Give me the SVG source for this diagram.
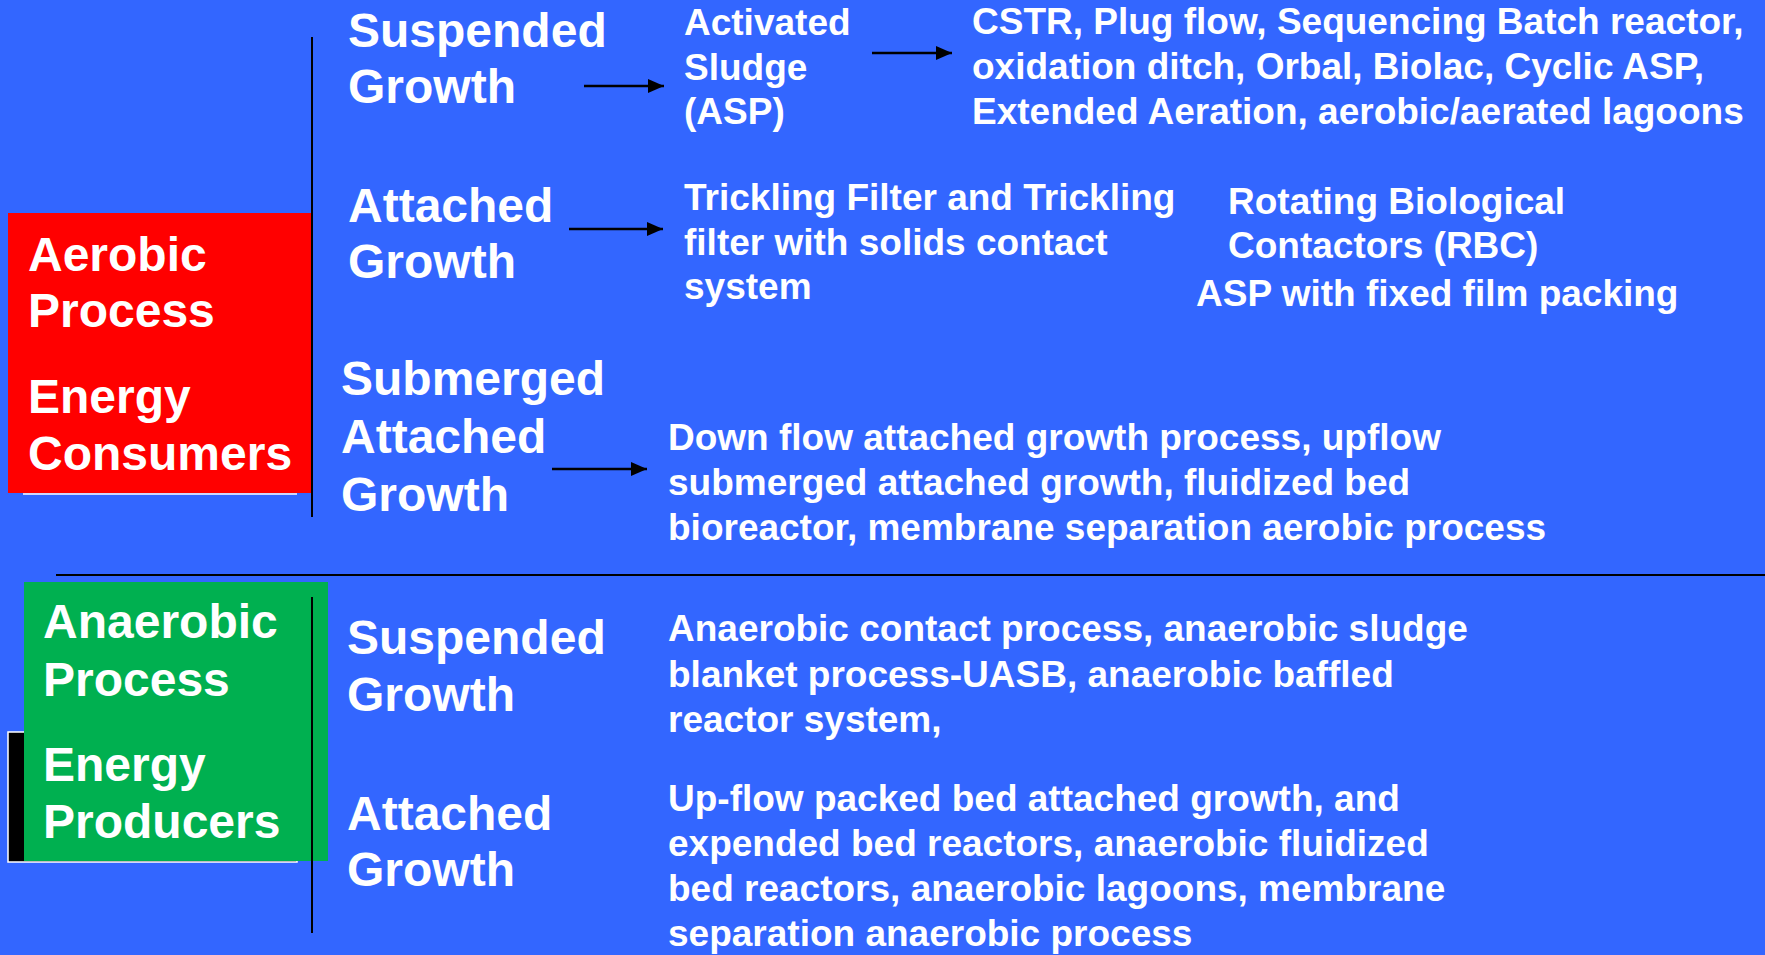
<svg xmlns="http://www.w3.org/2000/svg" width="1765" height="955" viewBox="0 0 1765 955">
  <style>
    text { font-family: "Liberation Sans", Arial, sans-serif; font-weight: bold; fill: #FFFFFF; }
    .big { font-size: 48px; }
    .small { font-size: 37px; }
    .rule { stroke: #000000; stroke-width: 2; fill: none; }
    .arrow { stroke: #000000; stroke-width: 2.5; fill: none; marker-end: url(#head); }
  </style>
  <defs>
    <marker id="head" markerUnits="userSpaceOnUse" markerWidth="18" markerHeight="16" refX="16" refY="8" orient="auto">
      <path d="M0,1 L16,8 L0,15 Z" fill="#000000"/>
    </marker>
  </defs>

  <!-- page -->
  <rect x="0" y="0" width="1765" height="955" fill="#3366FF"/>

  <!-- aerobic category block -->
  <g id="aerobic">
    <line x1="23" y1="494" x2="297" y2="494" stroke="#FFFFFF" stroke-width="1.5"/>
    <rect x="8" y="213" width="303" height="280" fill="#FF0000"/>
    <text class="big" x="28" y="271">Aerobic</text>
    <text class="big" x="28" y="327">Process</text>
    <text class="big" x="28" y="413">Energy</text>
    <text class="big" x="28" y="470">Consumers</text>
  </g>

  <!-- anaerobic category block -->
  <g id="anaerobic">
    <rect x="8" y="732" width="289" height="130" fill="#000000" stroke="#FFFFFF" stroke-width="1.5"/>
    <rect x="24" y="582" width="304" height="279" fill="#00B050"/>
    <text class="big" x="43" y="638">Anaerobic</text>
    <text class="big" x="43" y="696">Process</text>
    <text class="big" x="43" y="781">Energy</text>
    <text class="big" x="43" y="838">Producers</text>
  </g>

  <!-- aerobic branches -->
  <g id="aer-suspended">
    <text class="big" x="348" y="47">Suspended</text>
    <text class="big" x="348" y="103">Growth</text>
  </g>
  <g id="asp">
    <text class="small" x="684" y="35">Activated</text>
    <text class="small" x="684" y="80">Sludge</text>
    <text class="small" x="684" y="124">(ASP)</text>
  </g>
  <g id="asp-variants">
    <text class="small" x="972" y="34">CSTR, Plug flow, Sequencing Batch reactor,</text>
    <text class="small" x="972" y="79">oxidation ditch, Orbal, Biolac, Cyclic ASP,</text>
    <text class="small" x="972" y="124">Extended Aeration, aerobic/aerated lagoons</text>
  </g>

  <g id="aer-attached">
    <text class="big" x="348" y="222">Attached</text>
    <text class="big" x="348" y="278">Growth</text>
  </g>
  <g id="trickling">
    <text class="small" x="684" y="210">Trickling Filter and Trickling</text>
    <text class="small" x="684" y="255">filter with solids contact</text>
    <text class="small" x="684" y="299">system</text>
  </g>
  <g id="rbc">
    <text class="small" x="1228" y="214">Rotating Biological</text>
    <text class="small" x="1228" y="258">Contactors (RBC)</text>
  </g>
  <g id="fixed-film">
    <text class="small" x="1196" y="306">ASP with fixed film packing</text>
  </g>

  <g id="aer-submerged">
    <text class="big" x="341" y="395">Submerged</text>
    <text class="big" x="341" y="453">Attached</text>
    <text class="big" x="341" y="511">Growth</text>
  </g>
  <g id="submerged-list">
    <text class="small" x="668" y="450">Down flow attached growth process, upflow</text>
    <text class="small" x="668" y="495">submerged attached growth, fluidized bed</text>
    <text class="small" x="668" y="540">bioreactor, membrane separation aerobic process</text>
  </g>

  <!-- anaerobic branches -->
  <g id="ana-suspended">
    <text class="big" x="347" y="654">Suspended</text>
    <text class="big" x="347" y="711">Growth</text>
  </g>
  <g id="ana-suspended-list">
    <text class="small" x="668" y="641">Anaerobic contact process, anaerobic sludge</text>
    <text class="small" x="668" y="687">blanket process-UASB, anaerobic baffled</text>
    <text class="small" x="668" y="732">reactor system,</text>
  </g>

  <g id="ana-attached">
    <text class="big" x="347" y="830">Attached</text>
    <text class="big" x="347" y="886">Growth</text>
  </g>
  <g id="ana-attached-list">
    <text class="small" x="668" y="811">Up-flow packed bed attached growth, and</text>
    <text class="small" x="668" y="856">expended bed reactors, anaerobic fluidized</text>
    <text class="small" x="668" y="901">bed reactors, anaerobic lagoons, membrane</text>
    <text class="small" x="668" y="946">separation anaerobic process</text>
  </g>

  <!-- rules and arrows -->
  <g id="connectors">
    <line class="rule" x1="312" y1="37" x2="312" y2="517"/>
    <line class="rule" x1="312" y1="597" x2="312" y2="933"/>
    <line class="rule" x1="56" y1="575" x2="1765" y2="575"/>
    <line class="arrow" x1="584" y1="86" x2="664" y2="86"/>
    <line class="arrow" x1="872" y1="53" x2="952" y2="53"/>
    <line class="arrow" x1="569" y1="229" x2="663" y2="229"/>
    <line class="arrow" x1="552" y1="469" x2="647" y2="469"/>
  </g>
</svg>
